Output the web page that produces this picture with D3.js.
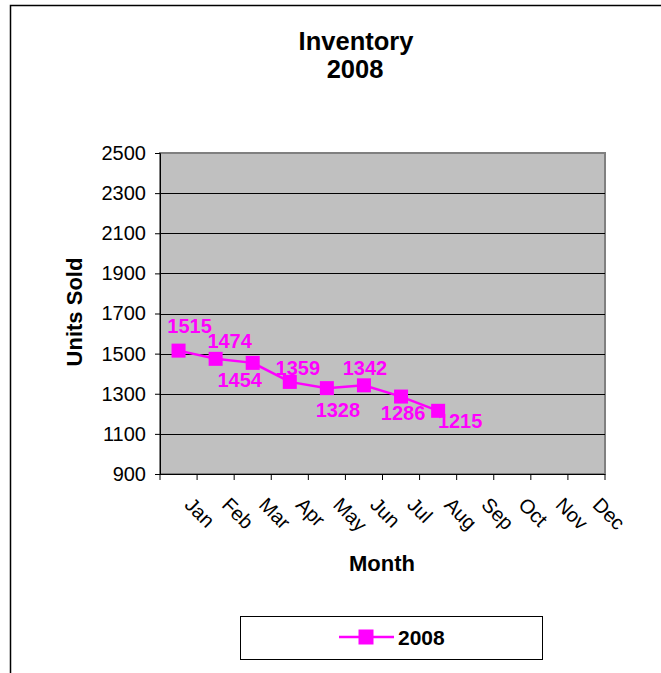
<!DOCTYPE html>
<html>
<head>
<meta charset="utf-8">
<script src="https://cdn.jsdelivr.net/npm/d3@7"></script>
<style>
  body { margin: 0; background: #fff; }
  svg { display: block; font-family: "Liberation Sans", Arial, sans-serif; }
</style>
</head>
<body>
<div id="chart"></div>
<script>
// chart values
const months = ["Jan", "Feb", "Mar", "Apr", "May", "Jun", "Jul", "Aug", "Sep", "Oct", "Nov", "Dec"];
const units2008 = [1515, 1474, 1454, 1359, 1328, 1342, 1286, 1215]; // Jan..Aug only
const yTicks = [900, 1100, 1300, 1500, 1700, 1900, 2100, 2300, 2500];

// where each data label sits relative to its point (Excel placed them by hand-ish)
const labelNudge = [[11, -18], [14, -11], [-13, 24], [8, -7], [11, 29], [1, -10], [2, 23], [22, 17]];

const W = 661, H = 673;
const plot = { left: 160, right: 605, top: 153, bottom: 474 };
const magenta = "#ff00ff";

const svg = d3.select("#chart").append("svg")
  .attr("width", W)
  .attr("height", H);

svg.append("rect").attr("width", W).attr("height", H).attr("fill", "#fff");

// outer chart frame (only top + left visible in the crop)
svg.append("path")
  .attr("d", `M10.5,${H} V5.5 H${W}`)
  .attr("fill", "none")
  .attr("stroke", "#000")
  .attr("stroke-width", 1.5);

const x = d3.scaleBand().domain(months).range([plot.left, plot.right]).padding(0);
const y = d3.scaleLinear().domain([900, 2500]).range([plot.bottom, plot.top]);

// plot area
svg.append("rect")
  .attr("x", plot.left)
  .attr("y", plot.top)
  .attr("width", plot.right - plot.left)
  .attr("height", plot.bottom - plot.top)
  .attr("fill", "#c0c0c0")
  .attr("stroke", "#808080")
  .attr("stroke-width", 2);

// gridlines
svg.append("g")
  .selectAll("line")
  .data(yTicks.filter(d => d > 900 && d < 2500))
  .join("line")
  .attr("x1", plot.left)
  .attr("x2", plot.right)
  .attr("y1", d => Math.round(y(d)) + 0.5)
  .attr("y2", d => Math.round(y(d)) + 0.5)
  .attr("stroke", "#000")
  .attr("stroke-width", 1);

// y axis
const yAxis = svg.append("g")
  .attr("transform", `translate(${plot.left},0)`)
  .call(d3.axisLeft(y).tickValues(yTicks).tickSize(5).tickPadding(9).tickFormat(d3.format("d")));
yAxis.select(".domain").attr("stroke", "#000");
yAxis.selectAll(".tick line").attr("stroke", "#000");
yAxis.selectAll("text")
  .attr("font-size", 20)
  .attr("font-family", "Liberation Sans, Arial, sans-serif")
  .attr("fill", "#000");

// x axis: ticks sit between categories
const xEdges = months.map(m => x(m)).concat([x.range()[1]]);
const xAxis = svg.append("g");
xAxis.append("line")
  .attr("x1", plot.left).attr("x2", plot.right)
  .attr("y1", plot.bottom + 0.5).attr("y2", plot.bottom + 0.5)
  .attr("stroke", "#000");
xAxis.selectAll("line.tk")
  .data(xEdges)
  .join("line")
  .attr("class", "tk")
  .attr("x1", d => d).attr("x2", d => d)
  .attr("y1", plot.bottom).attr("y2", plot.bottom + 6)
  .attr("stroke", "#000");
xAxis.selectAll("text")
  .data(months)
  .join("text")
  .attr("transform", d => `translate(${x(d) + x.bandwidth() / 2 + 5},${plot.bottom + 32}) rotate(45)`)
  .attr("font-size", 20)
  .attr("fill", "#000")
  .text(d => d);

// series
const pts = units2008.map((v, i) => ({ m: months[i], v, i }));
const cx = d => x(d.m) + x.bandwidth() / 2;

svg.append("path")
  .datum(pts)
  .attr("fill", "none")
  .attr("stroke", magenta)
  .attr("stroke-width", 2.5)
  .attr("d", d3.line().x(cx).y(d => y(d.v)));

const ms = 14;
svg.append("g")
  .selectAll("rect")
  .data(pts)
  .join("rect")
  .attr("x", d => cx(d) - ms / 2)
  .attr("y", d => y(d.v) - ms / 2)
  .attr("width", ms)
  .attr("height", ms)
  .attr("fill", magenta);

svg.append("g")
  .selectAll("text")
  .data(pts)
  .join("text")
  .attr("x", d => cx(d) + labelNudge[d.i][0])
  .attr("y", d => y(d.v) + labelNudge[d.i][1])
  .attr("text-anchor", "middle")
  .attr("font-size", 20)
  .attr("font-weight", "bold")
  .attr("fill", magenta)
  .text(d => d.v);

// titles
svg.append("text")
  .attr("x", 356).attr("y", 50)
  .attr("text-anchor", "middle")
  .attr("font-size", 25.5).attr("font-weight", "bold")
  .text("Inventory");
svg.append("text")
  .attr("x", 355).attr("y", 78)
  .attr("text-anchor", "middle")
  .attr("font-size", 25.5).attr("font-weight", "bold")
  .text("2008");

svg.append("text")
  .attr("transform", "translate(82,312) rotate(-90)")
  .attr("text-anchor", "middle")
  .attr("font-size", 22).attr("font-weight", "bold")
  .text("Units Sold");

svg.append("text")
  .attr("x", 382).attr("y", 571)
  .attr("text-anchor", "middle")
  .attr("font-size", 22).attr("font-weight", "bold")
  .text("Month");

// legend
const lg = svg.append("g");
lg.append("rect")
  .attr("x", 240.5).attr("y", 616.5)
  .attr("width", 302).attr("height", 43)
  .attr("fill", "#fff")
  .attr("stroke", "#000");
lg.append("line")
  .attr("x1", 339).attr("x2", 394)
  .attr("y1", 637).attr("y2", 637)
  .attr("stroke", magenta).attr("stroke-width", 2.5);
lg.append("rect")
  .attr("x", 366 - 7.5).attr("y", 637 - 7.5)
  .attr("width", 15).attr("height", 15)
  .attr("fill", magenta);
lg.append("text")
  .attr("x", 398).attr("y", 645)
  .attr("font-size", 21).attr("font-weight", "bold")
  .text("2008");
</script>
</body>
</html>
